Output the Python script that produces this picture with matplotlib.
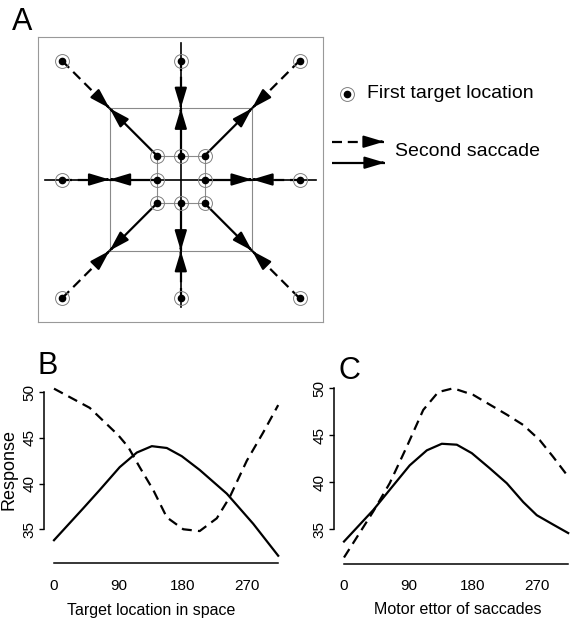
import numpy as np
import matplotlib
matplotlib.use("Agg")
import matplotlib.pyplot as plt

plt.rcParams['font.family'] = ['Liberation Sans', 'DejaVu Sans']
NARROW = ['Liberation Sans Narrow', 'Liberation Sans', 'DejaVu Sans']

W, H = 573, 625

# panel A geometry (grid units)
dirs = [(1, 1), (0, 1), (-1, 1), (-1, 0), (-1, -1), (0, -1), (1, -1), (1, 0)]
r_first = 1      # near first targets
r_meet = 3       # where the arrows meet
r_far = 5        # far first targets

# panels B and C
deg_B_dash = [0, 50, 90, 104, 120, 139, 158, 181, 204, 228, 246, 270, 293, 314]
resp_B_dash = [50.4, 48.3, 45.3, 44.0, 41.8, 39.3, 36.3, 35.0, 34.8, 36.2, 38.5, 42.5, 45.6, 48.6]
deg_B_solid = [0, 41, 64, 92, 116, 137, 158, 179, 204, 242, 279, 314]
resp_B_solid = [33.8, 37.3, 39.3, 41.8, 43.4, 44.1, 43.9, 43.0, 41.5, 38.9, 35.6, 32.1]

deg_C_dash = [0, 41, 64, 88, 111, 132, 153, 181, 228, 251, 274, 293, 314]
resp_C_dash = [32.0, 36.9, 39.9, 43.8, 47.7, 49.6, 50.0, 49.3, 47.2, 46.1, 44.5, 42.7, 40.6]
deg_C_solid = [0, 41, 64, 92, 116, 137, 158, 179, 204, 228, 251, 270, 293, 314]
resp_C_solid = [33.7, 37.05, 39.2, 41.8, 43.4, 44.1, 44.0, 43.1, 41.5, 39.9, 37.9, 36.5, 35.5, 34.6]

xticks = [0, 90, 180, 270]
yticks = [35, 40, 45, 50]


def px_rect(l, t, r, b):
    return [l / W, 1 - b / H, (r - l) / W, (b - t) / H]


hstyle = '-|>,head_length=1.2,head_width=0.36'
dash_ls = (0, (4.5, 2.6))


def arrow(a, start, tip, dashed):
    # shaft
    a.plot([start[0], tip[0]], [start[1], tip[1]], color='k', lw=1.6,
           ls=dash_ls if dashed else '-', solid_capstyle='butt', dash_capstyle='butt')
    # solid filled head
    s = np.array(start, float)
    t = np.array(tip, float)
    back = t - (t - s) * 0.05
    a.annotate('', xy=tuple(t), xytext=tuple(back),
               arrowprops=dict(arrowstyle=hstyle, color='k', lw=1.6,
                               shrinkA=0, shrinkB=0))


fig = plt.figure(figsize=(W / 100, H / 100), dpi=100)

# overlay for text / legend in pixel coords
ov = fig.add_axes([0, 0, 1, 1])
ov.set_xlim(0, W)
ov.set_ylim(H, 0)
ov.axis('off')

# ---- panel A ----
ax = fig.add_axes(px_rect(38.3, 37, 323.3, 322))
ax.set_xlim(-6, 6)
ax.set_ylim(-6, 6)
ax.set_xticks([])
ax.set_yticks([])
for s in ax.spines.values():
    s.set_color('#999999')
    s.set_linewidth(0.8)

grey = '#8a8a8a'
sq = np.array([(-1, -1), (1, -1), (1, 1), (-1, 1), (-1, -1)])
ax.plot(sq[:, 0] * r_meet, sq[:, 1] * r_meet, color=grey, lw=0.8)
ax.plot(sq[:, 0] * r_first, sq[:, 1] * r_first, color=grey, lw=0.8)
ax.plot([-5.7, 5.7], [0, 0], color='k', lw=1.2)
ax.plot([0, 0], [-5.35, 5.75], color='k', lw=1.2)

for dx, dy in dirs:
    tip = (dx * r_meet, dy * r_meet)
    arrow(ax, (dx * r_far, dy * r_far), tip, True)
    arrow(ax, (dx * r_first, dy * r_first), tip, False)

for r in (r_first, r_far):
    xs = [dx * r for dx, dy in dirs]
    ys = [dy * r for dx, dy in dirs]
    ax.plot(xs, ys, 'o', ms=10, mfc='none', mec='#808080', mew=0.7, zorder=4)
    ax.plot(xs, ys, 'o', ms=4.5, color='k', zorder=5)

# legend of panel A
ov.plot([346.5], [93.5], 'o', ms=10, mfc='none', mec='#808080', mew=0.7)
ov.plot([346.5], [93.5], 'o', ms=4.5, color='k')
ov.text(367, 94, 'First target location', fontsize=14, va='center', ha='left')
arrow(ov, (331.5, 141.7), (384, 141.7), True)
arrow(ov, (331.5, 162.7), (385, 162.7), False)
ov.text(395, 152, 'Second saccade', fontsize=14, va='center', ha='left')

ov.text(12, 22, 'A', fontsize=22, va='center', ha='left')
ov.text(38, 366, 'B', fontsize=22, va='center', ha='left')
ov.text(338, 371, 'C', fontsize=22, va='center', ha='left')


# ---- panels B and C ----
def response_panel(rect, x0, ppd, y50, ppu, spine_y, dash, solid, xlabel, xlab_x):
    l, t, r, b = rect
    a = fig.add_axes(px_rect(l, t, r, b))
    a.set_xlim((l - x0) / ppd, (r - x0) / ppd)
    a.set_ylim(50 - (b - y50) / ppu, 50 - (t - y50) / ppu)
    a.plot(dash[0], dash[1], color='k', lw=1.6, ls=(0, (4.5, 2.8)))
    a.plot(solid[0], solid[1], color='k', lw=1.6)
    a.spines['top'].set_visible(False)
    a.spines['right'].set_visible(False)
    a.spines['left'].set_position(('data', -13.6))
    a.spines['left'].set_bounds(35, 50)
    a.spines['bottom'].set_position(('data', 50 - (spine_y - y50) / ppu))
    a.spines['bottom'].set_bounds(0, 314)
    for s in ('left', 'bottom'):
        a.spines[s].set_linewidth(1.1)
    a.patch.set_visible(False)
    a.set_xticks(xticks)
    a.set_xticklabels([str(v) for v in xticks], family=NARROW, fontsize=11)
    a.tick_params(axis='x', length=0, pad=11)
    a.set_yticks(yticks)
    a.set_yticklabels([str(v) for v in yticks], fontsize=11, rotation=90, va='center')
    a.tick_params(axis='y', length=3.5, width=1, pad=2)
    ov.text(xlab_x, 610, xlabel, family=NARROW, fontsize=11.5, ha='center', va='center')
    return a


response_panel((20, 380, 290, 575), 54, 0.714, 392.3, 9.13, 563.3,
               (deg_B_dash, resp_B_dash), (deg_B_solid, resp_B_solid),
               'Target location in space', 150.7)
response_panel((310, 380, 573, 575), 344, 0.714, 388.3, 9.4, 564,
               (deg_C_dash, resp_C_dash), (deg_C_solid, resp_C_solid),
               'Motor ettor of saccades', 457.5)

ov.text(9, 470, 'Response', fontsize=13, rotation=90, ha='center', va='center')

fig.savefig('out.png', dpi=100, facecolor='white')
